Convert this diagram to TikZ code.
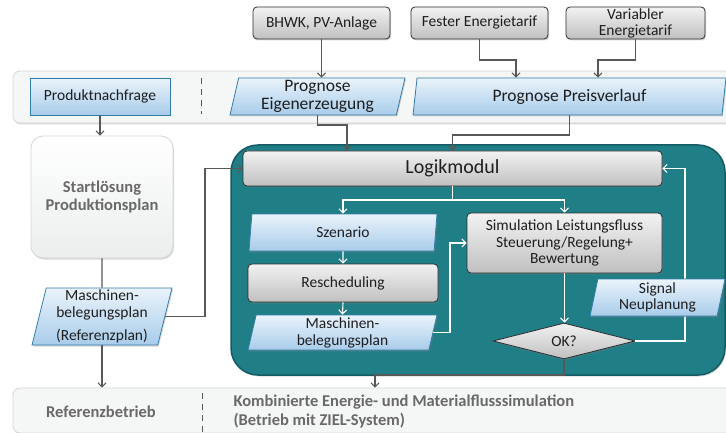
\documentclass[tikz,border=0pt]{standalone}
\usepackage{fontspec}
\setmainfont{Carlito}
\usetikzlibrary{shapes.geometric,arrows.meta,shadows}

\definecolor{tealc}{RGB}{32,126,135}
\definecolor{tealb}{RGB}{20,92,100}
\definecolor{conn}{RGB}{88,88,88}
\definecolor{txt}{RGB}{30,30,30}
\definecolor{bluetop}{RGB}{234,243,251}
\definecolor{bluebot}{RGB}{168,204,234}
\definecolor{blueb}{RGB}{50,125,168}
\definecolor{graytop}{RGB}{242,242,242}
\definecolor{graybot}{RGB}{192,192,192}
\definecolor{grayb}{RGB}{45,45,45}
\definecolor{bandf}{RGB}{245,246,246}
\definecolor{bandb}{RGB}{212,214,214}
\definecolor{boldgray}{RGB}{105,105,105}
\definecolor{startbot}{RGB}{236,238,238}

\begin{document}
\begin{tikzpicture}[x=1pt,y=-1pt,
  font=\fontsize{15.5}{17}\selectfont, text=txt,
  shadowed/.style={drop shadow={opacity=0.3, shadow xshift=1pt, shadow yshift=-1.5pt}},
  graybox/.style={rectangle, rounded corners=4pt, draw=grayb, line width=0.8pt,
    top color=graytop, bottom color=graybot, align=center, inner sep=0pt, shadowed},
  bluebox/.style={rectangle, draw=blueb, line width=0.8pt,
    top color=bluetop, bottom color=bluebot, align=center, inner sep=0pt, shadowed},
  para/.style={trapezium, trapezium left angle=75, trapezium right angle=105,
    trapezium stretches body, draw=blueb, line width=0.8pt,
    top color=bluetop, bottom color=bluebot, align=center, inner sep=0pt, shadowed},
  band/.style={rectangle, rounded corners=7pt, draw=bandb, line width=0.8pt,
    fill=bandf, inner sep=0pt, shadowed},
  garrow/.style={draw=conn, line width=1.1pt, -{Straight Barb[length=4pt,width=8pt]}},
  gline/.style={draw=conn, line width=1.1pt},
  warrow/.style={draw=white, line width=1.1pt, -{Straight Barb[length=4pt,width=8pt]}},
  sep/.style={draw=conn, line width=1pt, dash pattern=on 6pt off 5pt},
  boldtxt/.style={font=\fontsize{16.5}{18.5}\selectfont\bfseries, text=boldgray}
]
\useasboundingbox (0,0) rectangle (726,433);

% bands
\node[band, minimum width=730pt, minimum height=52pt] (band1) at (378,97) {};
\node[band, minimum width=730pt, minimum height=45pt] (band2) at (378,410.5) {};

% container
\node[rectangle, rounded corners=27pt, fill=tealc, draw=tealb, line width=1.5pt,
  minimum width=494pt, minimum height=230pt, inner sep=0pt, shadowed] (cont) at (478,260) {};

% top sources
\node[graybox, minimum width=137pt, minimum height=32pt] (bhwk) at (321.5,23) {BHWK, PV-Anlage};
\node[graybox, minimum width=137pt, minimum height=32pt] (fester) at (479.5,23) {Fester Energietarif};
\node[graybox, minimum width=139pt, minimum height=32pt,
  font=\fontsize{15.5}{16}\selectfont] (var) at (635.5,23) {Variabler\\Energietarif};

% band 1
\node[bluebox, minimum width=140pt, minimum height=37pt] (prodn) at (100,96.5) {Produktnachfrage};
\draw[sep] (201,78) -- (201,114);
\node[para, minimum width=175pt, minimum height=37pt,
  font=\fontsize{17.5}{18}\selectfont] (progeig) at (317.5,96.5) {Prognose\\Eigenerzeugung};
\node[para, minimum width=313pt, minimum height=37pt,
  font=\fontsize{17.5}{18}\selectfont] (prognpreis) at (569.5,96.5) {Prognose Preisverlauf};

% left column
\node[rectangle, rounded corners=12pt, draw=bandb, line width=0.8pt,
  top color=white, bottom color=startbot, minimum width=142pt, minimum height=122pt,
  inner sep=0pt, align=center, boldtxt, shadowed] (start) at (102,197) {Startlösung\\Produktionsplan};
\node[para, minimum width=140pt, minimum height=57pt] (refplan) at (102,316.5)
  {Maschinen-\\belegungsplan\\[6pt](Referenzplan)};

% inside container
\node[graybox, minimum width=419pt, minimum height=35pt,
  font=\fontsize{20}{22}\selectfont] (logik) at (452.5,168.5) {Logikmodul};
\node[para, minimum width=188pt, minimum height=37pt] (szen) at (343,232.5) {Szenario};
\node[graybox, minimum width=190pt, minimum height=38pt] (resched) at (343,283) {Rescheduling};
\node[para, minimum width=189pt, minimum height=35pt] (mbp) at (342.5,332.5) {Maschinen-\\belegungsplan};
\node[graybox, minimum width=195pt, minimum height=60pt,
  font=\fontsize{15.5}{16.5}\selectfont] (sim) at (564.5,243)
  {Simulation Leistungsfluss\\Steuerung/Regelung+\\Bewertung};
\node[diamond, aspect=3.9, draw=grayb, line width=0.8pt, top color=graytop, bottom color=graybot,
  minimum width=142pt, minimum height=36pt, inner sep=0pt, shadowed] (ok) at (564,341) {OK?};

% bottom band texts
\node[boldtxt] (refbetr) at (101,412) {Referenzbetrieb};
\draw[sep] (202,393) -- (202,432);
\node[boldtxt, anchor=west, align=left] (kombi) at (230,411.5)
  {Kombinierte Energie- und Materialflusssimulation\\(Betrieb mit ZIEL-System)};

% helper coordinates
\coordinate (f1) at (516,60);
\coordinate (v1) at (598,60);
\coordinate (e1) at (347,125);
\coordinate (p1) at (452.5,135);
\coordinate (r1) at (205,168.5);
\coordinate (l1) at (343,200);
\coordinate (l2) at (564.5,200);
\coordinate (m1) at (450,243);
\coordinate (o1) at (685,168.5);
\coordinate (o2) at (375,375);

% grey connectors
\draw[garrow] (bhwk.south) -- (bhwk.south |- progeig.north);
\draw[garrow] (fester.south) |- (f1) -- (f1 |- prognpreis.north);
\draw[garrow] (var.south) |- (v1) -- (v1 |- prognpreis.north);
\draw[garrow] (prodn.south) -- (prodn.south |- start.north);
\draw[garrow] (progeig.south) |- (e1) -- (e1 |- logik.north);
\draw[garrow] (prognpreis.south) |- (p1) -- (p1 |- logik.north);
\draw[gline] (start.south) -- (refplan.north);
\draw[garrow] (refplan.east) -| (r1) -- (logik.west);
\draw[garrow] (refplan.south) -- (refplan.south |- band2.north);
\draw[garrow] (ok.south) |- (o2) -- (o2 |- band2.north);

% white connectors
\draw[warrow] (logik.south) |- (l1) -- (l1 |- szen.north);
\draw[warrow] (logik.south) |- (l2) -- (l2 |- sim.north);
\draw[warrow] (szen.south) -- (resched.north);
\draw[warrow] (resched.south) -- (mbp.north);
\draw[warrow] (mbp.east) -| (m1) -- (sim.west);
\draw[warrow] (sim.south) -- (sim.south |- ok.north);
\draw[warrow] (ok.east) -| (o1) -- (logik.east);

% signal drawn over the return line
\node[para, minimum width=135pt, minimum height=37pt,
  font=\fontsize{15.5}{16}\selectfont] (signal) at (657.5,297.5) {Signal\\Neuplanung};
\end{tikzpicture}
\end{document}
